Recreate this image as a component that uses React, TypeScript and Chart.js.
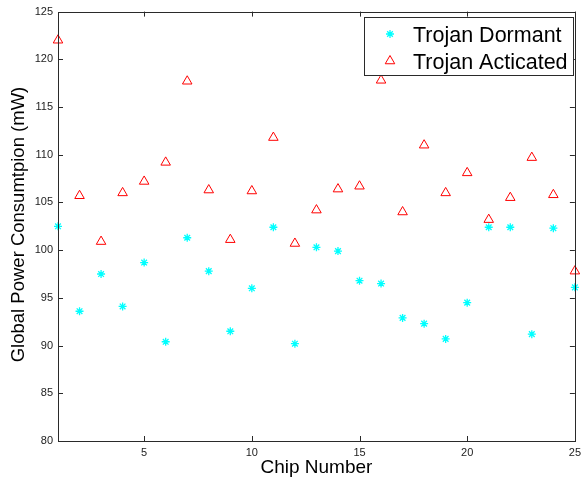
import React, { useEffect, useRef } from "react";
import { Chart, registerables } from "chart.js";

Chart.register(...registerables);

const chipNumbers = [1, 2, 3, 4, 5, 6, 7, 8, 9, 10, 11, 12, 13, 14, 15, 16, 17, 18, 19, 20, 21, 22, 23, 24, 25];
const dormant = [102.5, 93.6, 97.5, 94.1, 98.7, 90.4, 101.3, 97.8, 91.5, 96.0, 102.4, 90.2, 100.3, 99.9, 96.8, 96.5, 92.9, 92.3, 90.7, 94.5, 102.4, 102.4, 91.2, 102.3, 96.1];
const activated = [122.0, 105.7, 100.9, 106.0, 107.2, 109.2, 117.7, 106.3, 101.1, 106.2, 111.8, 100.7, 104.2, 106.4, 106.7, 117.8, 104.0, 111.0, 106.0, 108.1, 103.2, 105.5, 109.7, 105.8, 97.8];
const xTicks = [5, 10, 15, 20, 25];
const yTicks = [80, 85, 90, 95, 100, 105, 110, 115, 120, 125];
const seriesNames = ["Trojan Dormant", "Trojan Acticated"];
const xTitle = "Chip Number";
const yTitle = "Global Power Consumtpion (mW)";

const FONT = "'Liberation Sans', Arial, Helvetica, sans-serif";
const CYAN = "#00FFFF";
const RED = "#FF0000";

function drawStar(ctx: CanvasRenderingContext2D, x: number, y: number, r: number) {
  ctx.beginPath();
  ctx.moveTo(x - r, y);
  ctx.lineTo(x + r, y);
  ctx.moveTo(x, y - r);
  ctx.lineTo(x, y + r);
  const d = r * 0.7071;
  ctx.moveTo(x - d, y - d);
  ctx.lineTo(x + d, y + d);
  ctx.moveTo(x - d, y + d);
  ctx.lineTo(x + d, y - d);
  ctx.stroke();
}

function drawTriangle(ctx: CanvasRenderingContext2D, x: number, y: number, r: number) {
  const h = r * 1.5;
  const w = r * Math.sqrt(3);
  ctx.beginPath();
  ctx.moveTo(x, y - r);
  ctx.lineTo(x + w / 2, y - r + h);
  ctx.lineTo(x - w / 2, y - r + h);
  ctx.closePath();
  ctx.stroke();
}

const framePlugin = {
  id: "framePlugin",
  afterDatasetsDraw(chart: any) {
    const { ctx, chartArea } = chart;
    const { left, right, top, bottom } = chartArea;
    const xs = chart.scales.x;
    const ys = chart.scales.y;
    ctx.save();
    ctx.strokeStyle = "#2a2a2a";
    ctx.lineWidth = 1;
    ctx.strokeRect(Math.round(left) + 0.5, Math.round(top) + 0.5, Math.round(right - left), Math.round(bottom - top));
    const tl = 5;
    ctx.beginPath();
    for (const v of xTicks) {
      const px = Math.round(xs.getPixelForValue(v)) + 0.5;
      ctx.moveTo(px, bottom);
      ctx.lineTo(px, bottom - tl);
      ctx.moveTo(px, top);
      ctx.lineTo(px, top + tl);
    }
    for (const v of yTicks) {
      const py = Math.round(ys.getPixelForValue(v)) + 0.5;
      ctx.moveTo(left, py);
      ctx.lineTo(left + tl, py);
      ctx.moveTo(right, py);
      ctx.lineTo(right - tl, py);
    }
    ctx.stroke();

    // axis titles
    ctx.fillStyle = "#000";
    ctx.font = `19px ${FONT}`;
    ctx.textAlign = "center";
    ctx.textBaseline = "alphabetic";
    ctx.fillText(xTitle, (left + right) / 2, 473);
    ctx.save();
    ctx.font = `18.5px ${FONT}`;
    ctx.translate(24, 224.5);
    ctx.rotate(-Math.PI / 2);
    ctx.fillText(yTitle, 0, 0);
    ctx.restore();

    // legend
    const lx = 364, ly = 17, lw = 209, lh = 58;
    ctx.fillStyle = "#fff";
    ctx.fillRect(lx, ly, lw, lh);
    ctx.strokeStyle = "#2a2a2a";
    ctx.strokeRect(lx + 0.5, ly + 0.5, lw, lh);
    ctx.font = `21.5px ${FONT}`;
    ctx.textAlign = "left";
    ctx.textBaseline = "alphabetic";
    ctx.fillStyle = "#000";
    ctx.strokeStyle = CYAN;
    ctx.lineWidth = 1.3;
    drawStar(ctx, 390, 34, 4);
    ctx.fillText(seriesNames[0], 413, 41.5);
    ctx.strokeStyle = RED;
    ctx.lineWidth = 1;
    drawTriangle(ctx, 390, 61, 5.5);
    ctx.fillText(seriesNames[1], 413, 68.5);
    ctx.restore();
  },
};

export default function App() {
  const ref = useRef<HTMLCanvasElement | null>(null);
  useEffect(() => {
    if (!ref.current) return;
    const chart = new Chart(ref.current, {
      type: "scatter",
      data: {
        datasets: [
          {
            label: seriesNames[0],
            data: chipNumbers.map((c, i) => ({ x: c, y: dormant[i] })),
            pointStyle: "star",
            pointRadius: 4,
            borderColor: CYAN,
            backgroundColor: CYAN,
            pointBorderWidth: 1.3,
            clip: false as any,
          },
          {
            label: seriesNames[1],
            data: chipNumbers.map((c, i) => ({ x: c, y: activated[i] })),
            pointStyle: "triangle",
            pointRadius: 5.5,
            borderColor: RED,
            backgroundColor: "rgba(0,0,0,0)",
            pointBorderWidth: 1,
            clip: false as any,
          },
        ],
      },
      options: {
        responsive: false,
        animation: false,
        layout: { padding: { top: 11, right: 7, left: 0, bottom: 0 } },
        plugins: { legend: { display: false }, tooltip: { enabled: false } },
        scales: {
          x: {
            type: "linear",
            min: 1,
            max: 25,
            grid: { display: false, drawTicks: false, tickLength: 0 },
            border: { display: false },
            afterBuildTicks: (s: any) => {
              s.ticks = xTicks.map((v) => ({ value: v }));
            },
            afterFit: (s: any) => {
              s.height = 40;
            },
            ticks: { font: { family: FONT, size: 11 }, color: "#222", padding: 5, maxRotation: 0, autoSkip: false },
          },
          y: {
            type: "linear",
            min: 80,
            max: 125,
            grid: { display: false, drawTicks: false, tickLength: 0 },
            border: { display: false },
            afterBuildTicks: (s: any) => {
              s.ticks = yTicks.map((v) => ({ value: v }));
            },
            afterFit: (s: any) => {
              s.width = 58;
            },
            ticks: { font: { family: FONT, size: 11 }, color: "#222", padding: 5, autoSkip: false },
          },
        },
      },
      plugins: [framePlugin],
    });
    return () => chart.destroy();
  }, []);
  return (
    <div style={{ position: "absolute", left: 0, top: 0, width: 586, height: 481, background: "#fff" }}>
      <canvas ref={ref} width={586} height={481} />
    </div>
  );
}
